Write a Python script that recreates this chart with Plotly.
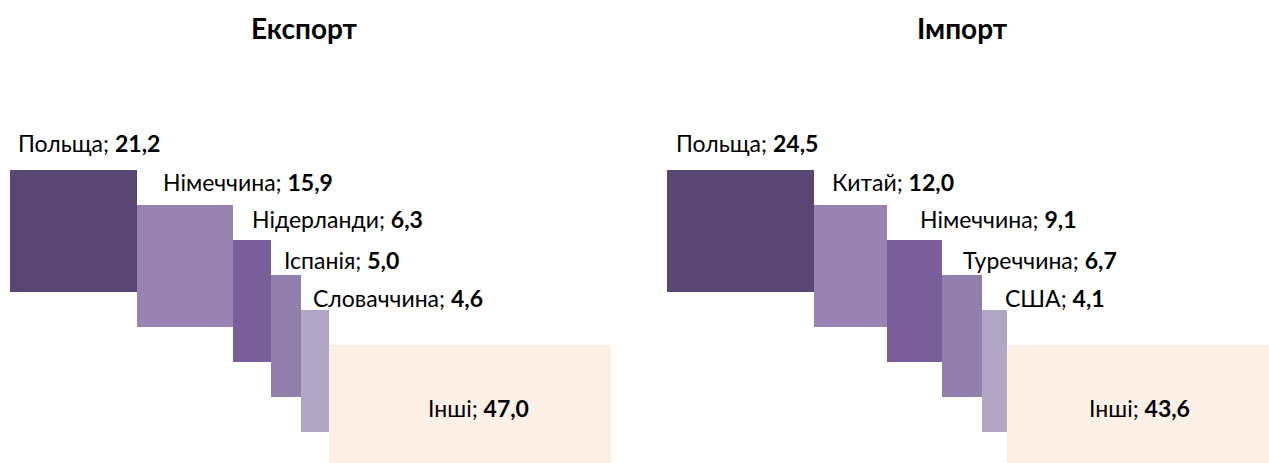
import plotly.graph_objects as go

# ---- data ----
exp_countries = ["Польща", "Німеччина", "Нідерланди", "Іспанія", "Словаччина", "Інші"]
exp_values = [21.2, 15.9, 6.3, 5.0, 4.6, 47.0]
imp_countries = ["Польща", "Китай", "Німеччина", "Туреччина", "США", "Інші"]
imp_values = [24.5, 12.0, 9.1, 6.7, 4.1, 43.6]
titles = ["Експорт", "Імпорт"]

# ---- style ----
colors = ["#5A4672", "#9782B2", "#7B5F9A", "#9180AC", "#B2A6C5", "#FDF0E7"]
FONT = "Lato"
W, H = 1269, 463
BAR_H = 3.49           # bar height in "step" units
PX_STEP = 35.0         # pixels per step
TOP_PX = 170.0         # pixel y of first bar top
label_y = [-0.77, 0.34, 1.4, 2.57, 3.66]   # label centres (step units)
exp_label_dx = [1.0, 4.0, 2.8, 1.9, 1.6]
imp_label_dx = [1.2, 2.6, 5.2, 3.2, 3.5]
others_dx = [1.5, 0.3]   # offset of "Інші" label from box centre

fig = go.Figure()
yrange = [(H - TOP_PX) / PX_STEP, -TOP_PX / PX_STEP]

panels = [
    (exp_countries, exp_values, "x", exp_label_dx, [10 / W, 611 / W]),
    (imp_countries, imp_values, "x2", imp_label_dx, [667 / W, 1269 / W]),
]

annotations = []
for p, (cats, vals, xa, ldx, dom) in enumerate(panels):
    lefts = []
    acc = 0.0
    for v in vals:
        lefts.append(acc)
        acc += v
    for i, (c, v) in enumerate(zip(cats, vals)):
        fig.add_trace(go.Bar(
            x=[lefts[i] + v / 2], y=[BAR_H], base=[i], width=[v],
            marker=dict(color=colors[i], line=dict(width=0)),
            xaxis=xa, yaxis="y", showlegend=False, hoverinfo="skip",
        ))
        txt = f"{c}; <b>{v:.1f}</b>".replace(".", ",")
        if i < len(vals) - 1:
            annotations.append(dict(
                x=lefts[i] + ldx[i], y=label_y[i], xref=xa, yref="y",
                text=txt, showarrow=False, xanchor="left", yanchor="middle",
                font=dict(family=FONT, size=23, color="#000000"),
            ))
        else:
            annotations.append(dict(
                x=lefts[i] + v / 2 + others_dx[p], y=i + 1.8, xref=xa, yref="y",
                text=txt, showarrow=False, xanchor="center", yanchor="middle",
                font=dict(family=FONT, size=23, color="#000000"),
            ))
    annotations.append(dict(
        x=(dom[0] + dom[1]) / 2 - 6 / W, y=1 - 28 / H, xref="paper", yref="paper",
        text=f"<b>{titles[p]}</b>", showarrow=False, xanchor="center", yanchor="middle",
        font=dict(family=FONT, size=28, color="#000000"),
    ))

fig.update_layout(
    width=W, height=H,
    margin=dict(l=0, r=0, t=0, b=0),
    paper_bgcolor="white", plot_bgcolor="white",
    barmode="overlay", bargap=0,
    xaxis=dict(domain=panels[0][4], range=[0, 100], visible=False, fixedrange=True),
    xaxis2=dict(domain=panels[1][4], range=[0, 100], visible=False, fixedrange=True),
    yaxis=dict(range=yrange, visible=False, fixedrange=True),
    annotations=annotations,
    hovermode=False,
)

fig.write_html(
    "out.html",
    config={"displayModeBar": False},
    post_script="document.body.style.margin='0';document.body.style.overflow='hidden';",
)
